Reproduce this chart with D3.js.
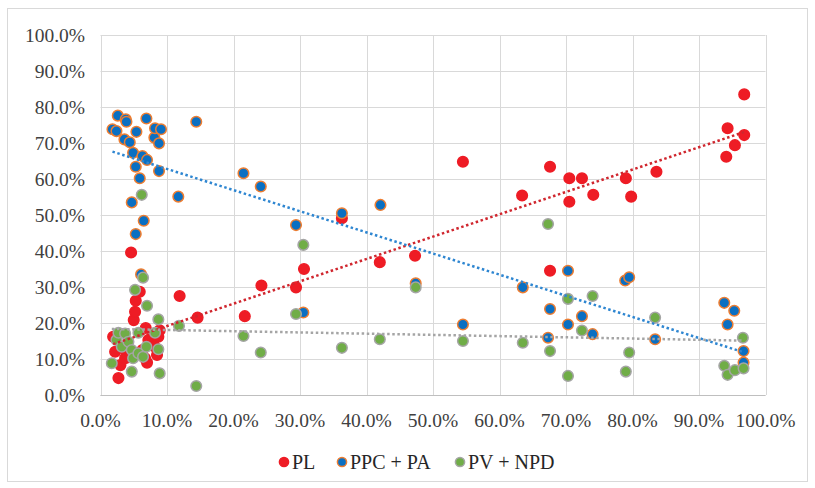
<!DOCTYPE html>
<html>
<head>
<meta charset="utf-8">
<script src="https://cdn.jsdelivr.net/npm/d3@7"></script>
</head>
<body style="margin:0">
<div id="c"></div>
<script>
// share values in percent, [x, y]
const plPoints = [
  [1.9,16.2],[2.2,12.0],[2.7,4.7],[3.0,8.3],[3.6,12.8],[3.7,10.2],[4.2,10.5],[4.4,12.0],
  [4.6,39.6],[5.0,20.8],[5.2,23.1],[5.3,26.2],[5.9,28.7],[5.9,11.6],[6.3,12.5],[6.7,10.2],
  [6.8,18.6],[7.0,9.0],[7.2,15.3],[8.1,13.5],[8.5,11.1],[8.7,16.2],[8.9,18.0],
  [11.9,27.5],[14.6,21.5],[21.7,21.9],[24.2,30.4],[29.4,29.9],[30.6,35.0],[36.3,49.1],
  [42.0,36.9],[47.3,38.7],[54.5,64.8],[63.4,55.4],[67.6,63.4],[67.6,34.5],[70.5,60.2],
  [70.5,53.7],[72.4,60.2],[74.1,55.6],[79.0,60.2],[79.8,55.1],[83.6,62.0],[94.1,66.2],
  [94.3,74.1],[95.4,69.4],[96.8,72.2],[96.8,83.5]
]
const ppcPoints = [
  [1.8,73.8],[2.4,73.3],[2.6,77.6],[3.6,71.0],[3.8,76.6],[3.9,75.9],[4.4,70.2],[4.7,53.5],
  [4.9,67.3],[5.3,63.4],[5.3,44.7],[5.4,73.1],[5.9,60.2],[6.1,33.5],[6.3,66.4],[6.5,48.4],
  [6.9,76.8],[7.0,65.3],[8.1,71.5],[8.2,74.1],[8.8,69.9],[8.8,62.2],[9.1,73.8],
  [11.7,55.1],[14.4,75.9],[21.5,61.6],[24.1,57.9],[29.4,47.2],[30.5,22.9],[36.3,50.5],
  [42.1,52.8],[47.4,31.0],[54.5,19.6],[63.5,29.9],[67.3,15.9],[67.6,23.9],[70.3,34.5],
  [70.3,19.6],[72.4,21.9],[74.0,16.9],[78.9,31.8],[79.5,32.7],[83.4,15.5],[93.8,25.6],
  [94.3,19.6],[95.3,23.4],[96.7,12.2],[96.7,9.0]
]
const pvPoints = [
  [1.7,8.8],[2.4,15.3],[2.7,17.3],[3.2,13.4],[3.7,17.1],[4.2,14.8],[4.7,12.5],[4.7,6.5],
  [4.9,10.2],[5.2,29.2],[5.7,17.3],[5.7,11.6],[6.2,55.6],[6.4,32.6],[6.4,10.6],[6.9,13.4],
  [7.0,24.8],[8.2,17.3],[8.7,21.0],[8.7,12.7],[8.9,6.0],
  [11.8,19.2],[14.4,2.5],[21.5,16.4],[24.1,11.8],[29.4,22.5],[30.5,41.7],[36.3,13.1],
  [42.0,15.5],[47.4,29.9],[54.5,15.0],[63.5,14.5],[67.3,47.5],[67.6,12.2],[70.3,26.7],
  [70.3,5.3],[72.4,17.9],[74.0,27.5],[79.0,6.5],[79.5,11.8],[83.4,21.5],[93.8,8.1],
  [94.3,5.6],[95.4,6.9],[96.7,7.4],[96.6,15.9]
]
const seriesNames = ["PL", "PPC + PA", "PV + NPD"]
const ticks = [0, 10, 20, 30, 40, 50, 60, 70, 80, 90, 100]

const width = 815
const height = 488
const margin = { top: 35, right: 49.5, bottom: 93, left: 100.5 }
const legendX = [284, 342, 460]

const styles = [
  { fill: "#ee1c25", stroke: "#ee1c25", trend: "#d0262e" },
  { fill: "#0a6fc2", stroke: "#ed7d31", trend: "#2e86d1" },
  { fill: "#70ad47", stroke: "#a5a5a5", trend: "#a5a5a5" }
]
const allSeries = [plPoints, ppcPoints, pvPoints]

const svg = d3.select("#c").append("svg")
  .attr("width", width)
  .attr("height", height)
  .style("font-family", "Liberation Serif")

// chart frame
svg.append("rect")
  .attr("x", 7.5).attr("y", 8.5)
  .attr("width", 800).attr("height", 473)
  .attr("fill", "#fff")
  .attr("stroke", "#d9d9d9")

const x = d3.scaleLinear().domain([0, 100]).range([margin.left, width - margin.right])
const y = d3.scaleLinear().domain([0, 100]).range([height - margin.bottom, margin.top])

const fmt = d => d.toFixed(1) + "%"

// grid
svg.append("g")
  .selectAll("line")
  .data(ticks)
  .join("line")
  .attr("x1", x(0)).attr("x2", x(100))
  .attr("y1", d => Math.round(y(d)) + 0.5).attr("y2", d => Math.round(y(d)) + 0.5)
  .attr("stroke", "#d9d9d9")

svg.append("g")
  .selectAll("line")
  .data(ticks)
  .join("line")
  .attr("y1", y(0)).attr("y2", y(100))
  .attr("x1", d => Math.round(x(d)) + 0.5).attr("x2", d => Math.round(x(d)) + 0.5)
  .attr("stroke", "#d9d9d9")

// axis line
svg.append("line")
  .attr("x1", x(0)).attr("x2", x(100))
  .attr("y1", Math.round(y(0)) + 0.5).attr("y2", Math.round(y(0)) + 0.5)
  .attr("stroke", "#bfbfbf")

// points
allSeries.forEach((pts, i) => {
  svg.append("g")
    .selectAll("circle")
    .data(pts)
    .join("circle")
    .attr("cx", d => x(d[0]))
    .attr("cy", d => y(d[1]))
    .attr("r", 5.3)
    .attr("fill", styles[i].fill)
    .attr("stroke", styles[i].stroke)
    .attr("stroke-width", 1.5)
})

// linear trendlines (least squares)
allSeries.forEach((pts, i) => {
  const mx = d3.mean(pts, d => d[0])
  const my = d3.mean(pts, d => d[1])
  const b = d3.sum(pts, d => (d[0] - mx) * (d[1] - my)) / d3.sum(pts, d => (d[0] - mx) ** 2)
  const a = my - b * mx
  const [x0, x1] = d3.extent(pts, d => d[0])
  svg.append("line")
    .attr("x1", x(x0)).attr("y1", y(a + b * x0))
    .attr("x2", x(x1)).attr("y2", y(a + b * x1))
    .attr("stroke", styles[i].trend)
    .attr("stroke-width", 2.5)
    .attr("stroke-dasharray", "2.5 2.6")
})

// tick labels
svg.append("g")
  .selectAll("text")
  .data(ticks)
  .join("text")
  .attr("x", 85)
  .attr("y", d => y(d))
  .attr("dy", "0.35em")
  .attr("text-anchor", "end")
  .style("font-family", "Liberation Serif")
  .style("font-size", "19.5px")
  .style("fill", "#404040")
  .text(fmt)

svg.append("g")
  .selectAll("text")
  .data(ticks)
  .join("text")
  .attr("x", d => x(d))
  .attr("y", 420)
  .attr("dy", "0.35em")
  .attr("text-anchor", "middle")
  .style("font-family", "Liberation Serif")
  .style("font-size", "19.5px")
  .style("fill", "#404040")
  .text(fmt)

// legend
const legend = svg.append("g")
  .selectAll("g")
  .data(seriesNames)
  .join("g")
  .attr("transform", (d, i) => `translate(${legendX[i]},462)`)

legend.append("circle")
  .attr("r", 4.6)
  .attr("fill", (d, i) => styles[i].fill)
  .attr("stroke", (d, i) => styles[i].stroke)
  .attr("stroke-width", 1.5)

legend.append("text")
  .attr("x", 8)
  .attr("dy", "0.35em")
  .style("font-family", "Liberation Serif")
  .style("font-size", "20px")
  .style("fill", "#262626")
  .text(d => d)
</script>
</body>
</html>
